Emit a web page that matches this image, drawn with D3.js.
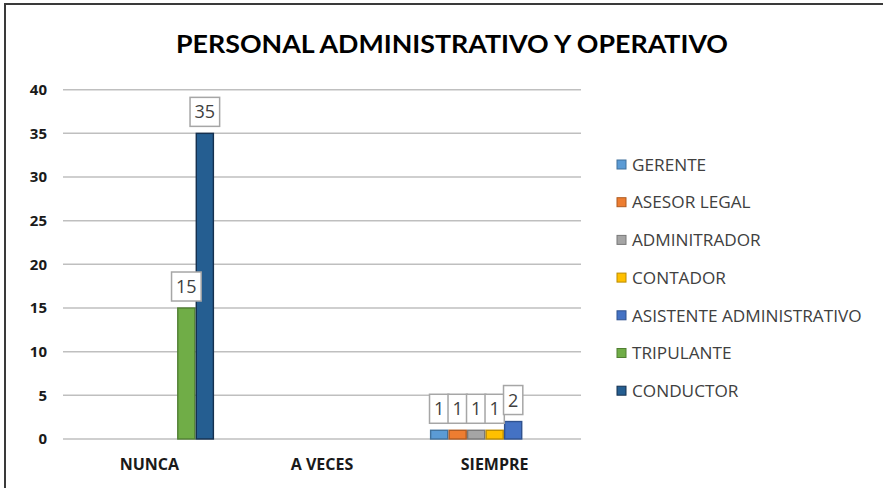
<!DOCTYPE html>
<html>
<head>
<meta charset="utf-8">
<script src="https://cdn.jsdelivr.net/npm/d3@7"></script>
<style>
  body { margin: 0; background: #fff; }
  text { font-family: "Open Sans", Lato, sans-serif; }
  .title { font-family: Lato, "Open Sans", sans-serif; }
</style>
</head>
<body>
<svg width="883" height="488"></svg>
<script>

var categories = ["NUNCA", "A VECES", "SIEMPRE"];
var seriesNames = ["GERENTE", "ASESOR LEGAL", "ADMINITRADOR", "CONTADOR",
  "ASISTENTE ADMINISTRATIVO", "TRIPULANTE", "CONDUCTOR"];
var gerente = [0, 0, 1];
var asesorLegal = [0, 0, 1];
var administrador = [0, 0, 1];
var contador = [0, 0, 1];
var asistente = [0, 0, 2];
var tripulante = [15, 0, 0];
var conductor = [35, 0, 0];
var yTicks = [0, 5, 10, 15, 20, 25, 30, 35, 40];

var seriesValues = [gerente, asesorLegal, administrador, contador, asistente, tripulante, conductor];
var fills = ["#5b9bd5", "#ed7d31", "#a5a5a5", "#ffc000", "#4472c4", "#70ad47", "#255e91"];
var strokes = ["#41719c", "#ae5a21", "#787878", "#bc8c00", "#2f528f", "#507e32", "#15304f"];

var svg = d3.select("svg");

// outer frame (only top and left edges are visible)
svg.append("rect")
  .attr("x", 5).attr("y", 4)
  .attr("width", 900).attr("height", 500)
  .attr("fill", "none")
  .attr("stroke", "#3a3a3a")
  .attr("stroke-width", 2);

svg.append("text")
  .attr("class", "title")
  .attr("x", 452).attr("y", 53)
  .attr("text-anchor", "middle")
  .attr("font-size", 25)
  .attr("font-weight", "bold")
  .attr("fill", "#000")
  .attr("textLength", 552)
  .attr("lengthAdjust", "spacingAndGlyphs")
  .text("PERSONAL ADMINISTRATIVO Y OPERATIVO");

var x = d3.scaleBand()
  .domain(categories)
  .range([63, 581])
  .paddingInner(0.25)
  .paddingOuter(0.125);

var xs = d3.scaleBand()
  .domain(seriesNames)
  .range([0, x.bandwidth()]);

var y = d3.scaleLinear()
  .domain([0, 40])
  .range([439, 89.7]);

// gridlines
svg.append("g")
  .selectAll("line")
  .data(yTicks)
  .enter().append("line")
  .attr("x1", 63).attr("x2", 581)
  .attr("y1", function(d) { return y(d); })
  .attr("y2", function(d) { return y(d); })
  .attr("stroke", "#bfbfbf")
  .attr("stroke-width", 1.5);

svg.append("g")
  .selectAll("text")
  .data(yTicks)
  .enter().append("text")
  .attr("x", 47)
  .attr("y", function(d) { return y(d); })
  .attr("dy", "0.35em")
  .attr("text-anchor", "end")
  .attr("font-size", 15)
  .attr("font-weight", "bold")
  .attr("fill", "#1a1a1a")
  .text(function(d) { return d; });

svg.append("g")
  .selectAll("text")
  .data(categories)
  .enter().append("text")
  .attr("x", function(d) { return x(d) + x.bandwidth() / 2; })
  .attr("y", 470)
  .attr("text-anchor", "middle")
  .attr("font-size", 16)
  .attr("font-weight", "bold")
  .attr("fill", "#1a1a1a")
  .text(function(d) { return d; });

var bars = [];
seriesNames.forEach(function(s, si) {
  categories.forEach(function(c, ci) {
    var v = seriesValues[si][ci];
    if (v > 0) bars.push({ series: s, si: si, cat: c, value: v });
  });
});

svg.append("g")
  .selectAll("rect")
  .data(bars)
  .enter().append("rect")
  .attr("x", function(d) { return x(d.cat) + xs(d.series) + 0.7; })
  .attr("y", function(d) { return y(d.value); })
  .attr("width", xs.bandwidth() - 1.4)
  .attr("height", function(d) { return y(0) - y(d.value); })
  .attr("fill", function(d) { return fills[d.si]; })
  .attr("stroke", function(d) { return strokes[d.si]; })
  .attr("stroke-width", 1.4);

// data labels in boxes
var lab = svg.append("g")
  .selectAll("g")
  .data(bars)
  .enter().append("g")
  .attr("transform", function(d) {
    return "translate(" + (x(d.cat) + xs(d.series) + xs.bandwidth() / 2) + "," + (y(d.value) - 7) + ")";
  });

lab.append("rect").attr("class", "lbox");
lab.append("text")
  .attr("text-anchor", "middle")
  .attr("y", -8)
  .attr("font-size", 18)
  .attr("fill", "#404040")
  .text(function(d) { return d.value; });

lab.each(function() {
  var g = d3.select(this);
  var w = g.select("text").node().getComputedTextLength() + 9;
  g.select("rect")
    .attr("x", -w / 2).attr("y", -29)
    .attr("width", w).attr("height", 29)
    .attr("fill", "#fff")
    .attr("stroke", "#a6a6a6")
    .attr("stroke-width", 1.5);
});

// legend
var legend = svg.append("g")
  .selectAll("g")
  .data(seriesNames)
  .enter().append("g")
  .attr("transform", function(d, i) { return "translate(617," + (164.5 + i * 37.7) + ")"; });

legend.append("rect")
  .attr("x", 0).attr("y", -4.5)
  .attr("width", 9).attr("height", 9)
  .attr("fill", function(d, i) { return fills[i]; })
  .attr("stroke", function(d, i) { return strokes[i]; })
  .attr("stroke-width", 1);

legend.append("text")
  .attr("x", 15)
  .attr("dy", "0.36em")
  .attr("font-size", 17.2)
  .attr("fill", "#404040")
  .text(function(d) { return d; });

</script>
</body>
</html>
